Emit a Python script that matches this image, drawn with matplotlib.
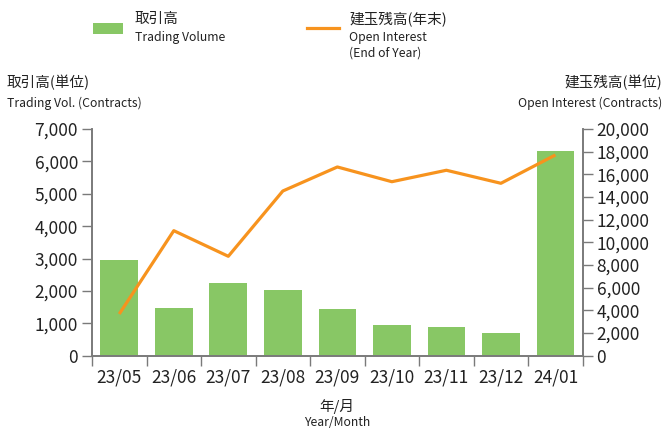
import matplotlib
matplotlib.use("Agg")
import matplotlib.pyplot as plt
from matplotlib.patches import Rectangle
from matplotlib.lines import Line2D
from matplotlib.ticker import FuncFormatter, MultipleLocator
import numpy as np

plt.rcParams["font.family"] = ["Noto Sans CJK JP", "DejaVu Sans"]

# data
months = ["23/05", "23/06", "23/07", "23/08", "23/09", "23/10", "23/11", "23/12", "24/01"]
volume = [2950, 1470, 2240, 2030, 1440, 950, 890, 700, 6320]
open_interest = [3680, 11030, 8770, 14530, 16650, 15350, 16360, 15210, 17710]

GREEN = "#88c765"
ORANGE = "#f7931e"
SPINE = "#7a7a7a"
TXT = "#222222"
JP = 10.5   # Japanese caption size
EN = 8.8    # English caption size

fig = plt.figure(figsize=(6.67, 4.29), dpi=100)
ax = fig.add_axes([92 / 667, 1 - 355.7 / 429, (582.7 - 92) / 667, (355.7 - 129) / 429])
ax2 = ax.twinx()

x = np.arange(len(months))
ax.bar(x, volume, width=0.69, color=GREEN, zorder=2)
ax2.plot(x, open_interest, color=ORANGE, lw=2.3, solid_capstyle="butt", zorder=3)

ax.set_xlim(-0.5, len(months) - 0.5)
ax.set_ylim(0, 7000)
ax2.set_ylim(0, 20000)
ax.yaxis.set_major_locator(MultipleLocator(1000))
ax2.yaxis.set_major_locator(MultipleLocator(2000))
fmt = FuncFormatter(lambda v, p: f"{int(v):,}")
ax.yaxis.set_major_formatter(fmt)
ax2.yaxis.set_major_formatter(fmt)

# category ticks sit between bars, labels centred under bars
ax.set_xticks(np.arange(-0.5, len(months), 1.0))
ax.set_xticklabels([])
ax.set_xticks(x, minor=True)
ax.set_xticklabels(months, minor=True)
ax.tick_params(axis="x", which="minor", length=0, pad=9, labelsize=12.5, labelcolor=TXT)
ax.tick_params(axis="x", which="major", length=7, width=1, color=SPINE)
ax.tick_params(axis="y", length=7, width=1, color=SPINE, labelsize=12.5, labelcolor=TXT, pad=3)
ax2.tick_params(axis="y", length=7, width=1, color=SPINE, labelsize=12.5, labelcolor=TXT, pad=3)

# line axis above the bars axis
ax2.set_zorder(ax.get_zorder() + 1)
ax2.patch.set_visible(False)

for a in (ax, ax2):
    a.spines["top"].set_visible(False)
    for s in ("left", "right", "bottom"):
        a.spines[s].set_color(SPINE)
        a.spines[s].set_linewidth(1.2)

# legend, drawn by hand in figure coords
W, H = 667, 429
fig.add_artist(Rectangle((93 / W, 1 - 34 / H), 30 / W, 11 / H, transform=fig.transFigure,
                         color=GREEN, lw=0))
fig.text(135 / W, 1 - 19 / H, "取引高", fontsize=JP, va="center", color=TXT)
fig.text(135 / W, 1 - 38 / H, "Trading Volume", fontsize=EN, va="center", color=TXT)
fig.add_artist(Line2D([307 / W, 339 / W], [1 - 28 / H, 1 - 28 / H], transform=fig.transFigure,
                      color=ORANGE, lw=2.3))
fig.text(349 / W, 1 - 19 / H, "建玉残高(年末)", fontsize=JP, va="center", color=TXT)
fig.text(349 / W, 1 - 38 / H, "Open Interest", fontsize=EN, va="center", color=TXT)
fig.text(349 / W, 1 - 53 / H, "(End of Year)", fontsize=EN, va="center", color=TXT)

# axis titles
fig.text(7 / W, 1 - 83 / H, "取引高(単位)", fontsize=JP, va="center", color=TXT)
fig.text(7 / W, 1 - 103 / H, "Trading Vol. (Contracts)", fontsize=EN, va="center", color=TXT)
fig.text(662 / W, 1 - 83 / H, "建玉残高(単位)", fontsize=JP, va="center", ha="right", color=TXT)
fig.text(662 / W, 1 - 103 / H, "Open Interest (Contracts)", fontsize=EN, va="center", ha="right",
         color=TXT)
fig.text(337 / W, 1 - 407 / H, "年/月", fontsize=JP, va="center", ha="center", color=TXT)
fig.text(337 / W, 1 - 422 / H, "Year/Month", fontsize=EN, va="center", ha="center", color=TXT)

fig.savefig("out.png", dpi=100)
